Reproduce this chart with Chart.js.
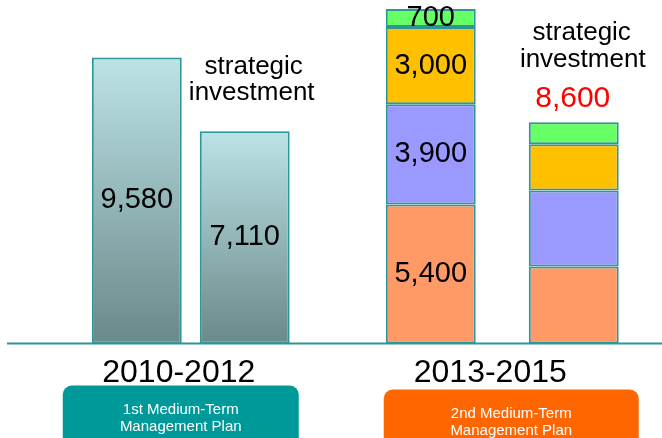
<!DOCTYPE html>
<html>
<head>
<meta charset="utf-8">
<script src="https://cdn.jsdelivr.net/npm/chart.js@4"></script>
<style>
  html, body { margin: 0; padding: 0; background: #fff; }
</style>
</head>
<body>
<canvas id="plans" width="662" height="438"></canvas>
<script>
const periods = ['2010-2012', '2013-2015'];
const planNames = [['1st Medium-Term', 'Management Plan'], ['2nd Medium-Term', 'Management Plan']];
const planColors = ['#009999', '#ff6600'];

// 1st plan: total and strategic investment
const firstTotal = [9580, null];
const firstStrategic = [7110, null];

// 2nd plan, segments bottom -> top
const segmentNames = ['Segment 1', 'Segment 2', 'Segment 3', 'Segment 4'];
const segmentColors = ['#ff9966', '#9999ff', '#ffc000', '#66ff66'];
const secondTotal = [5400, 3900, 3000, 700];
const secondStrategic = [3000, 2950, 1800, 850];

const edge = '#2e9696';
const family = "'Liberation Sans', Arial, sans-serif";

function tealGradient(c) {
  const chart = c.chart;
  const area = chart.chartArea;
  if (!area || c.raw == null) return '#9fc3c5';
  const top = chart.scales.yFirst.getPixelForValue(c.raw);
  const g = chart.ctx.createLinearGradient(0, top, 0, area.bottom);
  g.addColorStop(0, '#bce3e7');
  g.addColorStop(1, '#6a8989');
  return g;
}

const first = { categoryPercentage: 0.693, barPercentage: 0.833, yAxisID: 'yFirst' };
const second = { categoryPercentage: 0.918, barPercentage: 0.629, yAxisID: 'y' };

const datasets = [
  { label: 'Total', data: firstTotal, stack: 'total', backgroundColor: tealGradient, showValue: true, ...first },
  { label: 'Strategic investment', data: firstStrategic, stack: 'strategic', backgroundColor: tealGradient, showValue: true, ...first }
];
segmentNames.forEach((name, i) => {
  datasets.push({ label: name, data: [null, secondTotal[i]], stack: 'total',
    backgroundColor: segmentColors[i], showValue: true, ...second });
});
segmentNames.forEach((name, i) => {
  datasets.push({ label: name + ' (strategic)', data: [null, secondStrategic[i]], stack: 'strategic',
    backgroundColor: segmentColors[i], showValue: false, ...second });
});

const decorations = {
  id: 'decorations',
  afterDatasetsDraw(chart) {
    const ctx = chart.ctx;
    const area = chart.chartArea;
    const x = chart.scales.x;
    ctx.save();

    // values inside bars
    ctx.fillStyle = '#000';
    ctx.font = '29px ' + family;
    ctx.textAlign = 'center';
    ctx.textBaseline = 'middle';
    chart.data.datasets.forEach((ds, di) => {
      if (!ds.showValue) return;
      chart.getDatasetMeta(di).data.forEach((bar, i) => {
        const v = ds.data[i];
        if (v == null) return;
        ctx.fillText(v.toLocaleString('en-US'), bar.x, (bar.y + bar.base) / 2);
      });
    });

    // baseline
    ctx.strokeStyle = edge;
    ctx.lineWidth = 2;
    ctx.beginPath();
    ctx.moveTo(7, area.bottom);
    ctx.lineTo(chart.width, area.bottom);
    ctx.stroke();

    // "strategic investment" notes
    ctx.textBaseline = 'alphabetic';
    ctx.font = '26px ' + family;
    const bar2 = chart.getDatasetMeta(1).data[0];
    ctx.fillText('strategic', bar2.x + 9, bar2.y - 57);
    ctx.fillText('investment', bar2.x + 7, bar2.y - 31);
    const last = chart.data.datasets.length - 1;
    const bar4 = chart.getDatasetMeta(last).data[1];
    ctx.fillText('strategic', bar4.x + 8, bar4.y - 82);
    ctx.fillText('investment', bar4.x + 9, bar4.y - 55);
    const strategicSum = secondStrategic.reduce((a, b) => a + b, 0);
    ctx.fillStyle = '#ff0000';
    ctx.font = '30px ' + family;
    ctx.fillText(strategicSum.toLocaleString('en-US'), bar4.x - 1, bar4.y - 15);

    // plan boxes
    const boxOffset = [-10, 9];
    const boxWidth = [236, 255];
    const boxTop = [area.bottom + 42, area.bottom + 46];
    periods.forEach((p, i) => {
      const cx = x.getPixelForValue(i) + boxOffset[i];
      ctx.fillStyle = planColors[i];
      ctx.beginPath();
      ctx.roundRect(cx - boxWidth[i] / 2, boxTop[i], boxWidth[i], 70, 9);
      ctx.fill();
      ctx.fillStyle = '#fff';
      ctx.font = '15px ' + family;
      planNames[i].forEach((line, li) => {
        ctx.fillText(line, cx, boxTop[i] + 28 + li * 17);
      });
    });
    ctx.restore();
  }
};

new Chart(document.getElementById('plans'), {
  type: 'bar',
  data: { labels: periods, datasets: datasets },
  options: {
    responsive: false,
    animation: false,
    layout: { padding: { top: 9, left: 35, right: 4, bottom: 36 } },
    datasets: { bar: { borderWidth: 2, borderColor: edge, borderSkipped: false } },
    plugins: { legend: { display: false }, tooltip: { enabled: false } },
    scales: {
      x: {
        grid: { display: false, drawTicks: false },
        border: { display: false },
        ticks: { color: '#000', font: { family: family, size: 32 }, padding: 10, labelOffset: -12 }
      },
      y: { display: false, stacked: true, min: 0, max: 13000 },
      yFirst: { display: false, stacked: true, min: 0, max: 11200 }
    }
  },
  plugins: [decorations]
});
</script>
</body>
</html>
